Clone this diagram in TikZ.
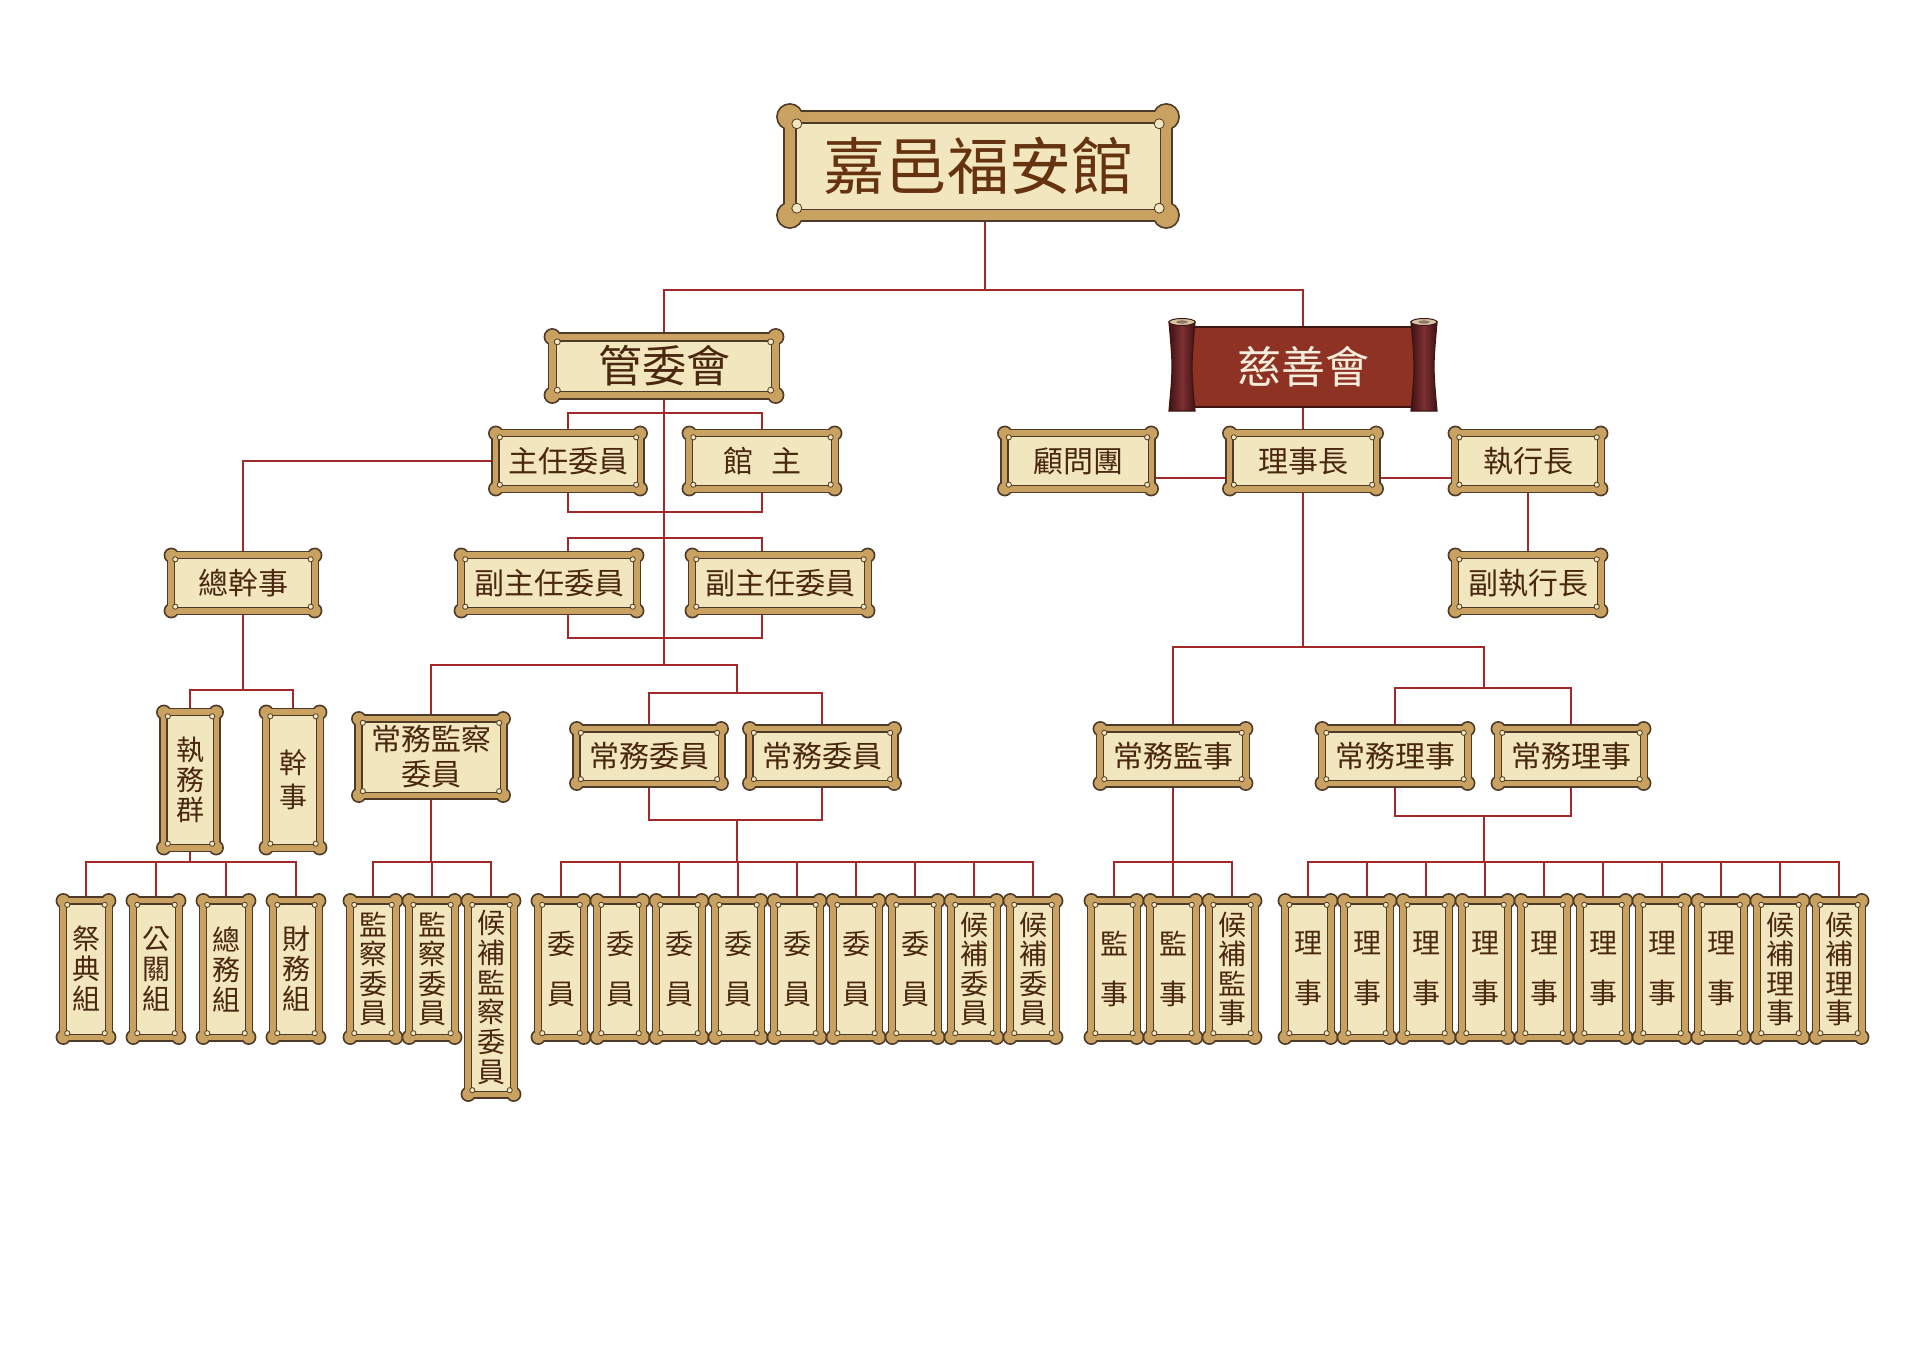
\documentclass[tikz,border=0pt]{standalone}
\usepackage{fontspec}
\setmainfont{Noto Sans CJK TC}
\usetikzlibrary{calc}
\definecolor{gold}{HTML}{C9A261}
\definecolor{frameline}{HTML}{4E3A29}
\definecolor{cream}{HTML}{F2E6BE}
\definecolor{txtbrown}{HTML}{4A2810}
\definecolor{titlebrown}{HTML}{663311}
\definecolor{linered}{HTML}{A3282A}
\definecolor{scrollred}{HTML}{8E3323}
\definecolor{scrolledge}{HTML}{3E1510}
\definecolor{rolldark}{HTML}{3F1114}
\definecolor{rollmid}{HTML}{7E3032}
\definecolor{rolltop}{HTML}{D6C6A6}
\definecolor{scrolltxt}{HTML}{F6EDDC}
\pgfdeclarelayer{paper}
\pgfdeclarelayer{lines}
\pgfdeclarelayer{bg}
\pgfsetlayers{paper,lines,bg,main}
% plaque frame: #1 node, #2 knob radius, #3 knob inset, #4 band, #5 dot radius
\newcommand\plq[5]{%
\begin{pgfonlayer}{bg}
\path ($(#1.north west)+(#3pt,-#3pt)$) coordinate (k1)
      ($(#1.north east)+(-#3pt,-#3pt)$) coordinate (k2)
      ($(#1.south west)+(#3pt,#3pt)$) coordinate (k3)
      ($(#1.south east)+(-#3pt,#3pt)$) coordinate (k4)
      ($(#1.north west)+(#4pt,-#4pt)$) coordinate (i1)
      ($(#1.north east)+(-#4pt,-#4pt)$) coordinate (i2)
      ($(#1.south west)+(#4pt,#4pt)$) coordinate (i3)
      ($(#1.south east)+(-#4pt,#4pt)$) coordinate (i4);
\draw[frameline, line width=3.4pt] (#1.south west) rectangle (#1.north east);
\foreach \kk in {k1,k2,k3,k4}{\draw[frameline, line width=3.4pt] (\kk) circle (#2pt);}
\fill[gold] (#1.south west) rectangle (#1.north east);
\foreach \kk in {k1,k2,k3,k4}{\fill[gold] (\kk) circle (#2pt);}
\filldraw[fill=cream, draw=frameline, line width=1.4pt] (i1) rectangle (i4);
\path ($(i1)+(1pt,-1pt)$) coordinate (d1) ($(i2)+(-1pt,-1pt)$) coordinate (d2)
      ($(i3)+(1pt,1pt)$) coordinate (d3) ($(i4)+(-1pt,1pt)$) coordinate (d4);
\foreach \kk in {d1,d2,d3,d4}{\filldraw[fill=cream, draw=frameline, line width=0.8pt] (\kk) circle (#5pt);}
\end{pgfonlayer}}
% scroll roll at centre x
\newcommand\scrollroll[1]{%
\shadedraw[left color=rolldark, right color=rolldark, middle color=rollmid, draw=scrolledge, line width=1.2pt]
 ({#1-13},322) .. controls ({#1-9},367) .. ({#1-13},411) -- ({#1+13},411) .. controls ({#1+9},367) .. ({#1+13},322) -- cycle;
\filldraw[fill=rolltop, draw=scrolledge, line width=1pt] (#1,322) ellipse (13pt and 3.5pt);
\fill[rolldark!45!rolltop] (#1,322) ellipse (6pt and 1.6pt);}
\tikzset{
 plaque/.style={rectangle, inner sep=0pt, text=txtbrown, align=center},
 pwide/.style={plaque, minimum width=151pt, minimum height=61pt, font=\fontsize{30}{34}\selectfont},
 ptall/.style={plaque, minimum width=51pt, minimum height=142pt, font=\fontsize{28}{29.5}\selectfont},
 ptwo/.style={ptall, font=\fontsize{28}{50}\selectfont},
 conn/.style={draw=linered, line width=2.2pt},
}
\begin{document}
\begin{tikzpicture}[x=1pt,y=-1pt]
\useasboundingbox (0,0) rectangle (1920,1357);
\begin{pgfonlayer}{paper}
\fill[white] (0,0) rectangle (1920,1357);
\end{pgfonlayer}
% ---------- nodes ----------
\node[plaque, text=titlebrown, minimum width=386pt, minimum height=108pt, font=\fontsize{62}{66}\selectfont] (title) at (978,166) {嘉邑福安館};
\node[plaque, minimum width=229pt, minimum height=64pt, font=\fontsize{44}{48}\selectfont] (gwh) at (664,366) {管委會};
\node[plaque, text=scrolltxt, minimum width=223pt, minimum height=80pt, font=\fontsize{44}{48}\selectfont] (cs) at (1303,367) {慈善會};
% left branch
\node[pwide, minimum width=150pt] (zr) at (568,461) {主任委員};
\node[pwide] (gz) at (762,461) {館\hspace{18pt}主};
\node[pwide, minimum width=181pt] (fz1) at (549,583) {副主任委員};
\node[pwide, minimum width=181pt] (fz2) at (780,583) {副主任委員};
\node[pwide, minimum width=149pt] (zgs) at (243,583) {總幹事};
\node[ptall, minimum width=58pt, minimum height=141pt, font=\fontsize{28}{30}\selectfont] (zwq) at (190,780) {執\\務\\群};
\node[ptall, minimum width=59pt, minimum height=141pt, font=\fontsize{28}{34}\selectfont] (gs) at (293,780) {幹\\事};
\node[plaque, minimum width=150pt, minimum height=82pt, font=\fontsize{30}{35}\selectfont] (cwjc) at (431,757) {常務監察\\委員};
\node[pwide, minimum width=150pt, minimum height=60pt] (cwwy1) at (649,756) {常務委員};
\node[pwide, minimum width=150pt, minimum height=60pt] (cwwy2) at (822,756) {常務委員};
\node[ptall, font=\fontsize{28}{30}\selectfont] (g1) at (86,969) {祭\\典\\組};
\node[ptall, font=\fontsize{28}{30}\selectfont] (g2) at (156,969) {公\\關\\組};
\node[ptall, font=\fontsize{28}{30}\selectfont] (g3) at (226,969) {總\\務\\組};
\node[ptall, font=\fontsize{28}{30}\selectfont] (g4) at (296,969) {財\\務\\組};
\node[ptall] (jc1) at (373,969) {監\\察\\委\\員};
\node[ptall] (jc2) at (432,969) {監\\察\\委\\員};
\node[ptall, minimum height=199pt, font=\fontsize{28}{29.8}\selectfont] (hbjc) at (491,997.5) {候\\補\\監\\察\\委\\員};
\foreach \i in {1,...,7}{\node[ptwo] (wy\i) at ({561+59*(\i-1)},969) {委\\員};}
\node[ptall] (wy8) at (974,969) {候\\補\\委\\員};
\node[ptall] (wy9) at (1033,969) {候\\補\\委\\員};
% right branch
\node[pwide, minimum width=152pt] (gwt) at (1078,461) {顧問團};
\node[pwide, minimum width=152pt] (lsz) at (1303,461) {理事長};
\node[pwide] (zxz) at (1528,461) {執行長};
\node[pwide] (fzx) at (1528,583) {副執行長};
\node[pwide, minimum height=60pt] (cwjs) at (1173,756) {常務監事};
\node[pwide, minimum height=60pt] (cwls1) at (1395,756) {常務理事};
\node[pwide, minimum height=60pt] (cwls2) at (1571,756) {常務理事};
\node[ptwo] (js1) at (1114,969) {監\\事};
\node[ptwo] (js2) at (1173,969) {監\\事};
\node[ptall] (hbjs) at (1232,969) {候\\補\\監\\事};
\foreach \i in {1,...,8}{\node[ptwo] (ls\i) at ({1308+59*(\i-1)},969) {理\\事};}
\node[ptall] (ls9) at (1780,969) {候\\補\\理\\事};
\node[ptall] (ls10) at (1839,969) {候\\補\\理\\事};
% ---------- frames ----------
\plq{title}{12}{5}{11}{5}
\plq{gwh}{7}{3}{7}{3}
\foreach \n in {zr,gz,fz1,fz2,zgs,zwq,gs,cwjc,cwwy1,cwwy2,g1,g2,g3,g4,jc1,jc2,hbjc,
  wy1,wy2,wy3,wy4,wy5,wy6,wy7,wy8,wy9,gwt,lsz,zxz,fzx,cwjs,cwls1,cwls2,js1,js2,hbjs,
  ls1,ls2,ls3,ls4,ls5,ls6,ls7,ls8,ls9,ls10}{\plq{\n}{6}{3}{6}{2.6}}
\begin{pgfonlayer}{bg}
\filldraw[fill=scrollred, draw=scrolledge, line width=1.6pt] (cs.south west) rectangle (cs.north east);
\scrollroll{1182}
\scrollroll{1424}
\end{pgfonlayer}
% ---------- connectors ----------
\coordinate (tj) at (985,290);
\coordinate (y413) at (0,413);
\coordinate (y512) at (0,512);
\coordinate (y538) at (0,538);
\coordinate (y638) at (0,638);
\coordinate (y665) at (0,665);
\coordinate (y690) at (0,690);
\coordinate (y647) at (0,647);
\coordinate (y862) at (0,862);
\coordinate (cwtop) at (737,693);
\coordinate (cwbot) at (737,820);
\coordinate (lstop) at (1484,688);
\coordinate (lsbot) at (1484,816);
\begin{pgfonlayer}{lines}
\draw[conn] (tj |- title.south) -- (tj);
\draw[conn] (gwh.north) |- (tj) -| (cs.north);
% management committee
\draw[conn] (gwh.south) -- (gwh.south |- y665);
\draw[conn] (zr.north) |- (y413 -| gz.north) -- (gz.north);
\draw[conn] (zr.south) |- (y512 -| gz.south) -- (gz.south);
\draw[conn] (fz1.north -| zr.south) |- (y538 -| gz.south) -- (fz2.north -| gz.south);
\draw[conn] (fz1.south -| zr.south) |- (y638 -| gz.south) -- (fz2.south -| gz.south);
\draw[conn] (zr.west) -| (zgs.north);
\draw[conn] (zgs.south) -- (zgs.south |- y690);
\draw[conn] (zwq.north) |- (y690 -| gs.north) -- (gs.north);
\draw[conn] (zwq.south) -- (zwq.south |- y862);
\draw[conn] (g1.north) |- (y862 -| g4.north) -- (g4.north);
\draw[conn] (g2.north) -- (g2.north |- y862);
\draw[conn] (g3.north) -- (g3.north |- y862);
\draw[conn] (cwjc.north) |- (y665 -| cwtop) -- (cwtop);
\draw[conn] (cwjc.south) -- (cwjc.south |- y862);
\draw[conn] (jc1.north) |- (y862 -| hbjc.north) -- (hbjc.north);
\draw[conn] (jc2.north) -- (jc2.north |- y862);
\draw[conn] (cwwy1.north) |- (cwtop -| cwwy2.north) -- (cwwy2.north);
\draw[conn] (cwwy1.south) |- (cwbot -| cwwy2.south) -- (cwwy2.south);
\draw[conn] (cwbot) -- (cwbot |- y862);
\draw[conn] (wy1.north) |- (y862 -| wy9.north) -- (wy9.north);
\foreach \i in {2,...,8}{\draw[conn] (wy\i.north) -- (wy\i.north |- y862);}
% charity
\draw[conn] (cs.south) -- (lsz.north);
\draw[conn] ($(gwt.east)+(0pt,-17pt)$) -- ($(lsz.west)+(0pt,-17pt)$);
\draw[conn] ($(lsz.east)+(0pt,-17pt)$) -- ($(zxz.west)+(0pt,-17pt)$);
\draw[conn] (zxz.south) -- (fzx.north);
\draw[conn] (lsz.south) -- (lsz.south |- y647);
\draw[conn] (cwjs.north) |- (y647 -| lstop) -- (lstop);
\draw[conn] (cwls1.north) |- (lstop -| cwls2.north) -- (cwls2.north);
\draw[conn] (cwls1.south) |- (lsbot -| cwls2.south) -- (cwls2.south);
\draw[conn] (lsbot) -- (lsbot |- y862);
\draw[conn] (cwjs.south) -- (cwjs.south |- y862);
\draw[conn] (js1.north) |- (y862 -| hbjs.north) -- (hbjs.north);
\draw[conn] (js2.north) -- (js2.north |- y862);
\draw[conn] (ls1.north) |- (y862 -| ls10.north) -- (ls10.north);
\foreach \i in {2,...,9}{\draw[conn] (ls\i.north) -- (ls\i.north |- y862);}
\end{pgfonlayer}
\end{tikzpicture}
\end{document}
